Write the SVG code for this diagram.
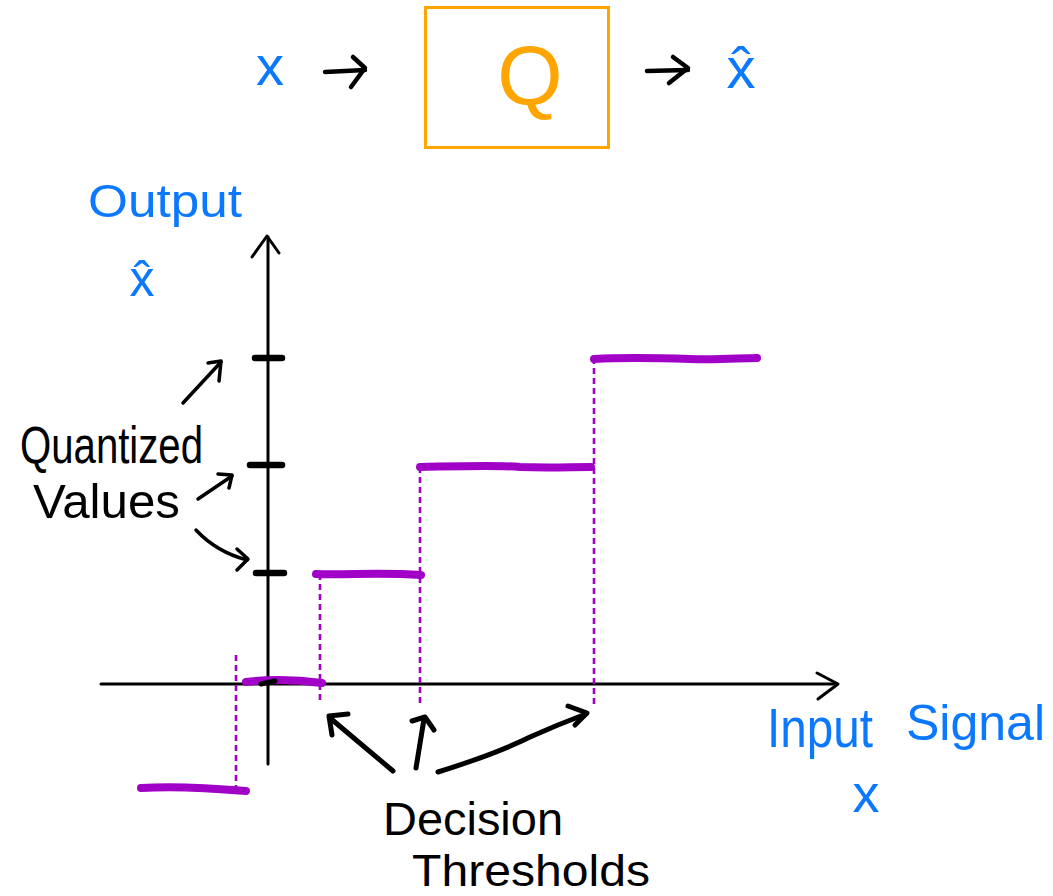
<svg xmlns="http://www.w3.org/2000/svg" width="1053" height="896" viewBox="0 0 1053 896">
<style>
.bg{fill:#ffffff}
.ink{fill:none;stroke:#000;stroke-linecap:round;stroke-linejoin:round}
.arr{stroke-width:4.5}
.axis{stroke-width:3}
.tick{stroke-width:6.5}
.step{fill:none;stroke:#A100C6;stroke-width:8;stroke-linecap:round;stroke-linejoin:round}
.dash{fill:none;stroke:#A100C6;stroke-width:2.6;stroke-dasharray:6 4}
.box{fill:none;stroke:#FFA500;stroke-width:3}
.blue{fill:#0A78FF;font-family:"Liberation Sans","DejaVu Sans",sans-serif}
.blk{fill:#000;font-family:"Liberation Sans","DejaVu Sans",sans-serif}
.org{fill:#FFA500;font-family:"Liberation Sans","DejaVu Sans",sans-serif}
</style>
<rect class="bg" x="0" y="0" width="1053" height="896"/>

<g id="input-x">
<text class="blue" x="270" y="85" font-size="56" text-anchor="middle">x</text>
</g>

<g id="quantizer">
<rect class="box" x="425.5" y="7.5" width="183" height="140"/>
<text class="org" x="530" y="104" font-size="84" text-anchor="middle">Q</text>
</g>

<g id="output-xhat">
<text class="blue" x="741" y="88" font-size="58" font-family="DejaVu Sans, sans-serif" text-anchor="middle">x̂</text>
</g>

<g id="axes">
<path class="ink axis" d="M268 237 L268 764"/>
<path class="ink axis" d="M252 257 L267 236 L279 253"/>
<path class="ink axis" d="M101 684 L837 684"/>
<path class="ink axis" d="M817 673 L838 684 L818 699"/>
</g>

<g id="ticks">
<path class="ink tick" d="M255 358 L282 358"/>
<path class="ink tick" d="M250 465 L282 465"/>
<path class="ink tick" d="M256 573 L284 573"/>
</g>

<g id="thresholds">
<path class="dash" d="M236 655 L236 788"/>
<path class="dash" d="M320 574 L320 702"/>
<path class="dash" d="M420 467 L420 705"/>
<path class="dash" d="M594 358 L594 705"/>
</g>

<g id="steps">
<path class="step" d="M141 788 C170 786 200 787 246 791"/>
<path class="step" d="M246 682 C270 679 300 680 322 683"/>
<path class="ink" stroke-width="5" d="M261 684 L275 681"/>
<path class="step" d="M316 574 C350 575 380 572 421 575"/>
<path class="step" d="M420 467 C470 466 500 465 520 467 C550 468 570 467 591 467"/>
<path class="step" d="M594 359 C630 357 660 358 690 359 C720 360 740 358 757 358"/>
</g>

<g id="label-output">
<text class="blue" x="88" y="217" font-size="46" textLength="154" lengthAdjust="spacingAndGlyphs">Output</text>
<text class="blue" x="142" y="296" font-size="50" font-family="DejaVu Sans, sans-serif" text-anchor="middle">x̂</text>
</g>

<g id="label-quantized">
<text class="blk" x="20" y="463" font-size="52" textLength="183" lengthAdjust="spacingAndGlyphs">Quantized</text>
<text class="blk" x="33" y="518" font-size="48" textLength="147" lengthAdjust="spacingAndGlyphs">Values</text>
</g>

<g id="label-decision">
<text class="blk" x="383" y="835" font-size="46" textLength="180" lengthAdjust="spacingAndGlyphs">Decision</text>
<text class="blk" x="412" y="886" font-size="44" textLength="238" lengthAdjust="spacingAndGlyphs">Thresholds</text>
</g>

<g id="label-input">
<text class="blue" x="767" y="747" font-size="56" textLength="106" lengthAdjust="spacingAndGlyphs">Input</text>
<text class="blue" x="906" y="740" font-size="50">Signal</text>
<text class="blue" x="866" y="812" font-size="54" text-anchor="middle">x</text>
</g>

<g id="connectors">
<path class="ink arr" d="M325 72 L365 70"/>
<path class="ink arr" d="M353 57 L365 68 L351 87"/>
<path class="ink arr" d="M647 71 L688 70"/>
<path class="ink arr" d="M673 57 L688 68 L669 83"/>
<path class="ink" stroke-width="3.5" d="M183 403 L221 362"/>
<path class="ink" stroke-width="3.5" d="M208 363 L221 361 L219 381"/>
<path class="ink" stroke-width="3.5" d="M198 499 L232 476"/>
<path class="ink" stroke-width="3.5" d="M218 474 L232 475 L229 488"/>
<path class="ink" stroke-width="3.5" d="M196 530 C210 545 228 555 247 560"/>
<path class="ink" stroke-width="3.5" d="M237 549 L248 559 L237 570"/>
<path class="ink" stroke-width="5" d="M393 771 L330 718"/>
<path class="ink" stroke-width="5" d="M348 714 L329 716 L332 735"/>
<path class="ink" stroke-width="5" d="M416 768 L424 719"/>
<path class="ink" stroke-width="5" d="M412 721 L425 717 L434 730"/>
<path class="ink" stroke-width="5" d="M438 772 C470 762 500 752 530 737 C550 728 570 720 586 714"/>
<path class="ink" stroke-width="5" d="M568 706 L587 713 L575 725"/>
</g>
</svg>
